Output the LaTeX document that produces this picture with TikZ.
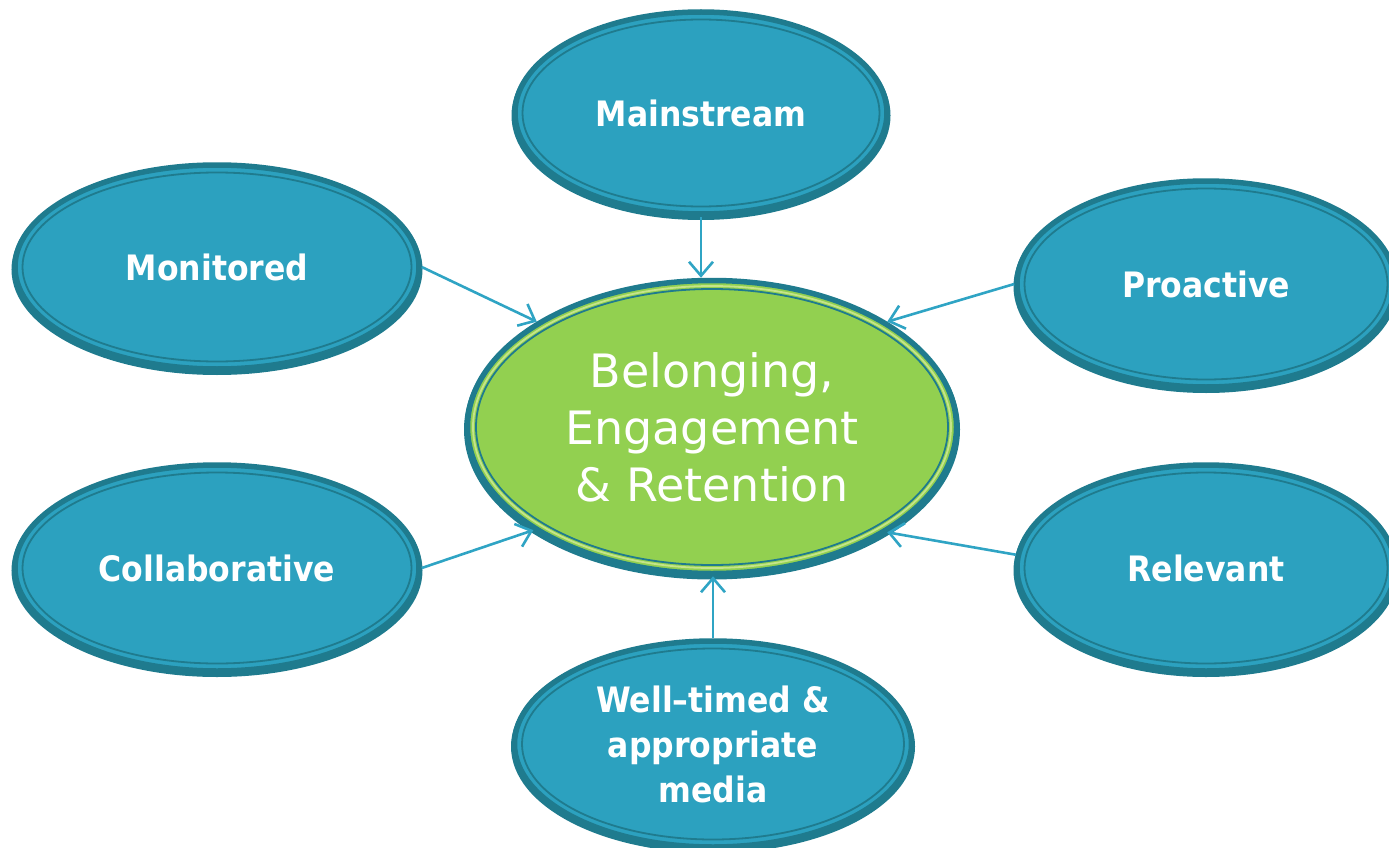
\documentclass[tikz,border=0pt]{standalone}
\usepackage{fontspec}
\setmainfont{DejaVu Sans}
\newfontfamily\bubblefont{DejaVu Sans Condensed}
\usetikzlibrary{arrows.meta,shapes.geometric}
\definecolor{tealfill}{HTML}{2CA1BF}
\definecolor{tealedge}{HTML}{1F7B8E}
\definecolor{leaf}{HTML}{92D050}
\definecolor{leaflight}{HTML}{C5E48A}
\definecolor{link}{HTML}{2FA4C4}
\begin{document}
\begin{tikzpicture}[x=1pt,y=-1pt,
  bubble/.style={ellipse, inner sep=0pt, fill=tealfill, draw=tealedge,
    line width=5.5pt, text=white, align=center,
    font=\bubblefont\bfseries\fontsize{35}{45}\selectfont,
    preaction={draw=tealedge, line width=7pt, transform canvas={yshift=-2.5pt}}},
  hub/.style={bubble, fill=leaf, font=\fontsize{46}{57}\selectfont},
  ring/.style={draw=tealedge, line width=1.8pt},
  glint/.style={draw=leaflight, line width=1.8pt},
  link/.style={draw=link, line width=2.6pt,
    -{Straight Barb[length=14pt,width=24pt,line width=2.6pt]}}
]
\clip (0,0) rectangle (1389,848);

% centre hub
\node[hub, minimum width=489pt, minimum height=293pt] (core) at (712,427)
  {Belonging,\\Engagement\\\& Retention};
\draw[glint] (core.center) ellipse [x radius=239pt, y radius=141pt];
\draw[ring]  (core.center) ellipse [x radius=236pt, y radius=138pt];

% surrounding qualities
\node[bubble, minimum width=372pt, minimum height=202pt] (main) at (701,113) {Mainstream};
\node[bubble, minimum width=404pt, minimum height=204pt] (mon)  at (217,267) {Monitored};
\node[bubble, minimum width=378pt, minimum height=206pt] (pro)  at (1206,284) {Proactive};
\node[bubble, minimum width=404pt, minimum height=206pt] (col)  at (217,568) {Collaborative};
\node[bubble, minimum width=378pt, minimum height=206pt] (rel)  at (1206,568) {Relevant};
\node[bubble, minimum width=397pt, minimum height=206pt] (well) at (713,744)
  {Well–timed \&\\appropriate\\media};

\draw[ring] (main.center) ellipse [x radius=178.5pt, y radius=93.5pt];
\draw[ring] (mon.center)  ellipse [x radius=194.5pt, y radius=94.5pt];
\draw[ring] (pro.center)  ellipse [x radius=181.5pt, y radius=95.5pt];
\draw[ring] (col.center)  ellipse [x radius=194.5pt, y radius=95.5pt];
\draw[ring] (rel.center)  ellipse [x radius=181.5pt, y radius=95.5pt];
\draw[ring] (well.center) ellipse [x radius=191pt, y radius=95.5pt];

% connectors into the hub
\draw[link] (main.south) -- (main.south |- core.north);
\draw[link] (mon.east)   -- (core.149);
\draw[link] (pro.west)   -- (core.31);
\draw[link] (col.east)   -- (core.210);
\draw[link] (rel.176)    -- (core.-31);
\draw[link] (well.north) -- (well.north |- core.south);
\end{tikzpicture}
\end{document}
